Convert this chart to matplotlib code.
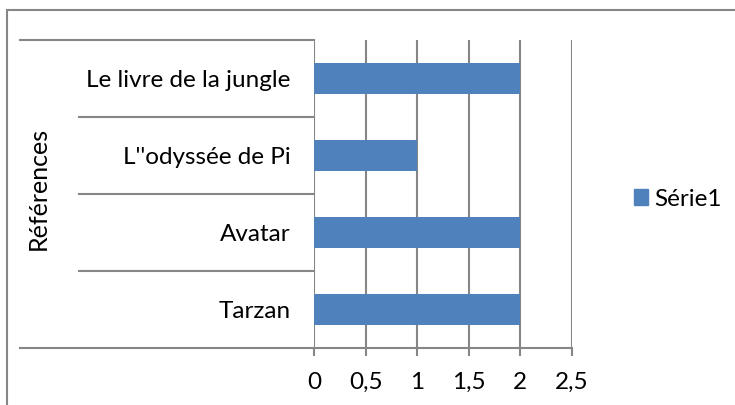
import matplotlib.pyplot as plt
from matplotlib.patches import Rectangle, Patch

# Data
categories = ['Tarzan', 'Avatar', "L''odyssée de Pi", 'Le livre de la jungle']
values = [2, 2, 1, 2]
xticks = [0, 0.5, 1, 1.5, 2, 2.5]
xticklabels = ['0', '0,5', '1', '1,5', '2', '2,5']

W, H = 735, 405
grey = '#868686'
blue = '#4F81BD'
fs = 17.5
plt.rcParams['font.family'] = ['Lato', 'DejaVu Sans']

fig = plt.figure(figsize=(W / 100, H / 100), dpi=100)

# outer chart border (right/bottom cut off)
fig.add_artist(Rectangle((7 / W, -0.1), 2, (H - 10) / H + 0.1, transform=fig.transFigure,
                         fill=False, edgecolor=grey, linewidth=1.5))

L, R, T, B = 314, 572, 40, 348
ax = fig.add_axes([L / W, (H - B) / H, (R - L) / W, (B - T) / H])

ypos = list(range(len(categories)))
ax.barh(ypos, values, height=0.4, color=blue, zorder=3)
ax.set_xlim(0, 2.5)
ax.set_ylim(-0.5, len(categories) - 0.5)

for s in ax.spines.values():
    s.set_visible(False)

# vertical gridlines
for x in xticks:
    ax.axvline(x, color=grey, linewidth=1.5, zorder=1)

# category separator lines in the label area
left_far = (20 - L) / (R - L)
left_near = (79 - L) / (R - L)
for i, y in enumerate([k - 0.5 for k in range(len(categories) + 1)]):
    if i == 0:
        ax.axhline(y, xmin=left_far, xmax=1, color=grey, linewidth=1.5, clip_on=False, zorder=2)
    elif i == len(categories):
        ax.axhline(y, xmin=left_far, xmax=0, color=grey, linewidth=1.5, clip_on=False, zorder=2)
    else:
        ax.axhline(y, xmin=left_near, xmax=0, color=grey, linewidth=1.5, clip_on=False, zorder=2)

ax.set_xticks(xticks)
ax.set_xticklabels(xticklabels, fontsize=fs)
ax.tick_params(axis='x', length=6, width=1.5, color=grey, pad=11)
ax.set_yticks(ypos)
ax.set_yticklabels(categories, fontsize=fs)
ax.tick_params(axis='y', length=0, pad=17)

fig.text(38 / W, 1 - 188 / H, 'Références', rotation=90, fontsize=18,
         ha='center', va='center')

leg = fig.legend(handles=[Patch(color=blue, label='Série1')], loc='center left',
                 bbox_to_anchor=(612 / W, 1 - 199 / H), frameon=False, fontsize=fs,
                 handlelength=0.6, handleheight=0.6, handletextpad=0.25)

fig.savefig('out.png', dpi=100)
